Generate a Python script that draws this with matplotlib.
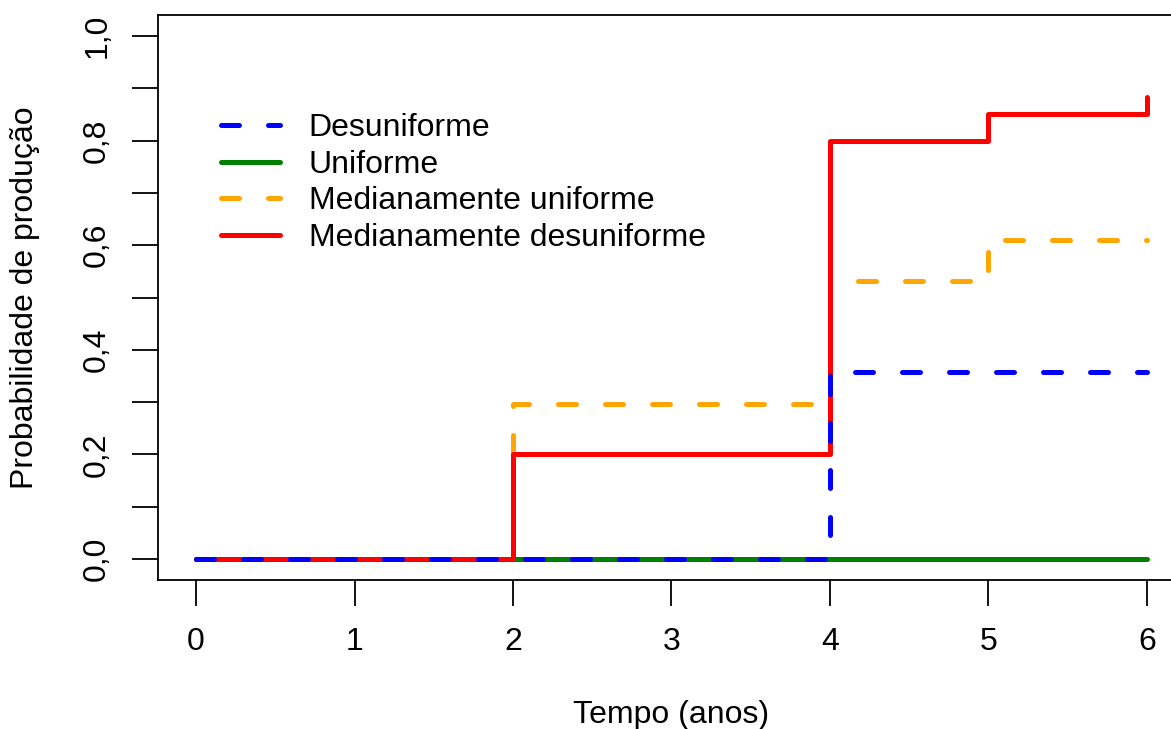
import matplotlib
matplotlib.use('Agg')
import matplotlib.pyplot as plt
from matplotlib.ticker import MultipleLocator

plt.rcParams['font.family'] = ['Liberation Sans', 'DejaVu Sans']

# dados (tempo em anos, probabilidade acumulada)
tempo = [0, 2, 4, 5, 6]
desuniforme = [0, 0, 0.357, 0.357, 0.357]
uniforme = [0, 0, 0, 0, 0]
med_uniforme = [0, 0.297, 0.532, 0.609, 0.609]
med_desuniforme = [0, 0.2, 0.8, 0.85, 0.883]

x_ticks = [0, 1, 2, 3, 4, 5, 6]
y_ticks = [0, 0.2, 0.4, 0.6, 0.8, 1.0]
y_labels = ['0,0', '0,2', '0,4', '0,6', '0,8', '1,0']

fs = 23

fig = plt.figure(figsize=(11.71, 7.29), dpi=100)
# caixa do R: o lado direito fica fora da imagem
ax = fig.add_axes([158 / 1171, 149 / 729, 1027 / 1171, 565 / 729])

lw = 3.6
dash = (3.6, 5.8)

ax.plot(tempo, uniforme, drawstyle='steps-post', color='#008000', lw=lw,
        solid_capstyle='round', label='Uniforme')
ax.plot(tempo, med_uniforme, drawstyle='steps-post', color='#FFA500', lw=lw,
        dashes=dash, dash_capstyle='round', label='Medianamente uniforme')
ax.plot(tempo, med_desuniforme, drawstyle='steps-post', color='#FF0000', lw=lw,
        solid_capstyle='round', solid_joinstyle='round', label='Medianamente desuniforme')
ax.plot(tempo, desuniforme, drawstyle='steps-post', color='#0000FF', lw=lw,
        dashes=dash, dash_capstyle='round', label='Desuniforme')

ax.set_xlim(-0.24, 6.24)
ax.set_ylim(-0.04, 1.04)

ax.set_xticks(x_ticks)
ax.set_xticklabels([str(t) for t in x_ticks])
ax.set_yticks(y_ticks)
ax.set_yticklabels(y_labels, rotation=90, va='center')
ax.yaxis.set_minor_locator(MultipleLocator(0.1))

ax.tick_params(axis='both', which='both', length=19, width=1.3, labelsize=fs,
               direction='out', color='black')
ax.tick_params(axis='x', pad=15)
ax.tick_params(axis='y', pad=14)
for s in ax.spines.values():
    s.set_linewidth(1.3)

ax.set_xlabel('Tempo (anos)', fontsize=fs)
ax.xaxis.set_label_coords(0.5, -0.2125)
ax.set_ylabel('Probabilidade de produção', fontsize=fs)
ax.yaxis.set_label_coords(-0.115, 0.5)

h, l = ax.get_legend_handles_labels()
order = [3, 0, 1, 2]
ax.legend([h[i] for i in order], [l[i] for i in order], frameon=False,
          fontsize=fs, loc='upper left', bbox_to_anchor=(221 / 1171, 1 - 113 / 729),
          bbox_transform=fig.transFigure, borderpad=0, borderaxespad=0,
          handlelength=1.85, handletextpad=0.9, labelspacing=0.21)

plt.savefig('out.png', dpi=100)
